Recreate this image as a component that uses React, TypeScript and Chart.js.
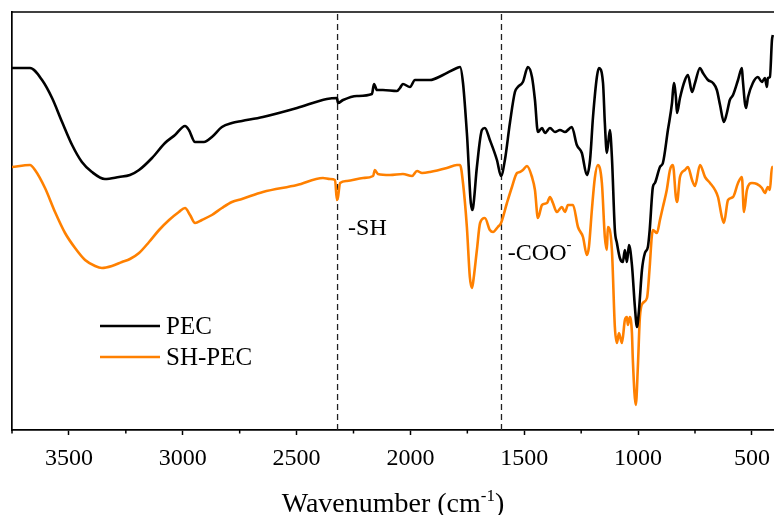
import { useEffect, useRef } from "react";
import { Chart, registerables } from "chart.js";

Chart.register(...registerables);

// ---------------- DATA ----------------
const seriesNames = ["PEC", "SH-PEC"];
const seriesColors = ["#000000", "#FF8000"];

const pecWavenumbers = [
  3750, 3671, 3618, 3574, 3530, 3486, 3443, 3399, 3342, 3280,
  3232, 3192, 3135, 3078, 3034, 2990, 2973, 2946, 2907, 2872,
  2828, 2784, 2740, 2648, 2498, 2367, 2323, 2318, 2296, 2235,
  2169, 2160, 2147, 2121, 2059, 2046, 2033, 2002, 1980, 1914,
  1857, 1796, 1782, 1769, 1752, 1730, 1725, 1708, 1686, 1673,
  1651, 1620, 1602, 1585, 1563, 1541, 1528, 1506, 1484, 1466,
  1453, 1440, 1422, 1409, 1387, 1365, 1343, 1321, 1291, 1269,
  1247, 1225, 1211, 1198, 1181, 1172, 1154, 1146, 1137, 1124,
  1115, 1102, 1093, 1080, 1067, 1058, 1049, 1040, 1027, 1014,
  1005, 996, 983, 970, 957, 949, 935, 926, 904, 891,
  869, 851, 843, 834, 829, 816, 794, 781, 763, 750,
  728, 715, 693, 671, 654, 640, 623, 610, 597, 583,
  561, 544, 540, 526, 517, 496, 474, 456, 443, 434,
  430, 421, 412, 408,
];
const pecValues = [
  362, 362, 350, 332, 308, 285, 268, 258, 251, 253,
  255, 260, 272, 287, 295, 304, 300, 288, 288, 293,
  303, 307, 309, 313, 322, 331, 332, 327, 330, 334,
  336, 346, 340, 340, 339, 342, 346, 343, 350, 350,
  355, 362, 363, 347, 297, 220, 222, 263, 300, 302,
  290, 270, 254, 270, 307, 338, 343, 348, 363, 353,
  330, 298, 302, 297, 302, 298, 300, 298, 303, 285,
  277, 255, 270, 313, 353, 362, 347, 307, 277, 300,
  273, 200, 187, 172, 168, 180, 168, 185, 165, 123,
  103, 120, 160, 177, 183, 200, 243, 247, 263, 267,
  300, 327, 347, 333, 317, 332, 350, 355, 338, 347,
  362, 357, 350, 347, 340, 325, 308, 317, 330, 335,
  350, 362, 350, 322, 333, 347, 353, 348, 352, 343,
  352, 353, 390, 395,
];

const shWavenumbers = [
  3750, 3671, 3649, 3605, 3561, 3517, 3473, 3429, 3385, 3355,
  3311, 3267, 3232, 3192, 3148, 3104, 3060, 3017, 2990, 2968,
  2946, 2916, 2872, 2828, 2784, 2740, 2648, 2498, 2384, 2353,
  2331, 2323, 2318, 2309, 2279, 2208, 2164, 2156, 2143, 2090,
  2033, 1993, 1971, 1949, 1914, 1840, 1796, 1782, 1769, 1752,
  1739, 1730, 1725, 1708, 1694, 1673, 1651, 1637, 1616, 1602,
  1576, 1554, 1532, 1519, 1506, 1488, 1466, 1453, 1440, 1422,
  1400, 1387, 1374, 1357, 1335, 1321, 1308, 1286, 1264, 1242,
  1225, 1216, 1203, 1190, 1177, 1159, 1146, 1137, 1133, 1115,
  1102, 1093, 1084, 1071, 1058, 1049, 1045, 1036, 1027, 1023,
  1010, 1001, 992, 979, 961, 949, 940, 935, 917, 904,
  891, 874, 860, 847, 834, 829, 816, 794, 781, 763,
  750, 728, 706, 684, 662, 649, 632, 623, 605, 583,
  561, 544, 535, 522, 500, 478, 456, 443, 430, 421,
  412, 408,
];
const shValues = [
  263, 265, 260, 242, 218, 197, 182, 170, 164, 162,
  164, 168, 171, 177, 188, 200, 210, 218, 222, 215,
  207, 210, 215, 222, 228, 231, 238, 245, 252, 251,
  250, 230, 233, 247, 249, 252, 254, 260, 256, 255,
  256, 254, 259, 257, 258, 262, 265, 265, 247, 203,
  153, 142, 147, 180, 207, 212, 200, 198, 203, 207,
  227, 243, 257, 258, 260, 264, 253, 240, 212, 225,
  227, 233, 227, 218, 223, 218, 225, 225, 203, 193,
  175, 183, 220, 252, 265, 247, 193, 180, 203, 180,
  103, 87, 97, 87, 110, 113, 105, 113, 97, 70,
  25, 63, 113, 127, 132, 163, 193, 200, 197, 210,
  223, 240, 260, 265, 233, 228, 253, 260, 263, 250,
  244, 265, 253, 247, 240, 233, 213, 207, 230, 233,
  247, 253, 218, 240, 247, 246, 242, 237, 243, 240,
  263, 263,
];

const markerWavenumbers = [2320, 1600];
const annotationTexts = [
  [{ t: "-SH", sup: false }],
  [{ t: "-COO", sup: false }, { t: "-", sup: true }],
];
const annotationWavenumbers = [2274, 1572];
const annotationValues = [201, 176];

const xMax = 3750;
const xMin = 403;
const yMin = 0;
const yMax = 418;
const tickValues = [3750, 3500, 3250, 3000, 2750, 2500, 2250, 2000, 1750, 1500, 1250, 1000, 750, 500];
const axisTitleParts = [
  { t: "Wavenumber (cm", sup: false },
  { t: "-1", sup: true },
  { t: ")", sup: false },
];

// ---------------- HELPERS ----------------
const SERIF = "'Times New Roman', 'Liberation Serif', serif";

function drawRich(
  ctx: CanvasRenderingContext2D,
  parts: { t: string; sup: boolean }[],
  x: number,
  y: number,
  size: number,
  align: "left" | "center",
  baseline: "middle" | "alphabetic"
) {
  const supSize = Math.round(size * 0.62);
  let total = 0;
  const widths = parts.map((p) => {
    ctx.font = `${p.sup ? supSize : size}px ${SERIF}`;
    const w = ctx.measureText(p.t).width;
    total += w;
    return w;
  });
  let cx = align === "center" ? x - total / 2 : x;
  ctx.textAlign = "left";
  ctx.textBaseline = baseline;
  parts.forEach((p, i) => {
    ctx.font = `${p.sup ? supSize : size}px ${SERIF}`;
    ctx.fillText(p.t, cx, p.sup ? y - size * 0.38 : y);
    cx += widths[i];
  });
}

const decorPlugin = {
  id: "decor",
  afterDatasetsDraw(chart: any) {
    const { ctx, chartArea, scales } = chart;
    const xs = scales.x;
    const ys = scales.y;
    ctx.save();
    ctx.strokeStyle = "#000";
    ctx.fillStyle = "#000";
    // top frame line
    ctx.lineWidth = 1.7;
    ctx.beginPath();
    ctx.moveTo(chartArea.left, chartArea.top);
    ctx.lineTo(chartArea.right, chartArea.top);
    ctx.stroke();
    // minor ticks
    ctx.lineWidth = 1.5;
    tickValues
      .filter((v) => v % 500 !== 0)
      .forEach((v) => {
        const px = xs.getPixelForValue(v);
        ctx.beginPath();
        ctx.moveTo(px, chartArea.bottom);
        ctx.lineTo(px, chartArea.bottom + 3.5);
        ctx.stroke();
      });
    // legend
    seriesNames.forEach((name, i) => {
      const ly = chartArea.top + 314 + i * 31;
      ctx.strokeStyle = seriesColors[i];
      ctx.lineWidth = 2.6;
      ctx.beginPath();
      ctx.moveTo(chartArea.left + 88, ly);
      ctx.lineTo(chartArea.left + 148, ly);
      ctx.stroke();
      ctx.fillStyle = "#000";
      drawRich(ctx, [{ t: name, sup: false }], chartArea.left + 154, ly + 1, 25, "left", "middle");
    });
    // annotations
    annotationTexts.forEach((parts, i) => {
      const ax = xs.getPixelForValue(annotationWavenumbers[i]);
      const ay = ys.getPixelForValue(annotationValues[i]);
      drawRich(ctx, parts, ax, ay, 24, "left", "middle");
    });
    // axis title
    drawRich(
      ctx,
      axisTitleParts,
      (chartArea.left + chartArea.right) / 2,
      chartArea.bottom + 82,
      28,
      "center",
      "alphabetic"
    );
    ctx.restore();
  },
};

export default function App() {
  const ref = useRef<HTMLCanvasElement>(null);
  useEffect(() => {
    document.body.style.margin = "0";
    if (!ref.current) return;
    const lineDs = (name: string, ws: number[], vs: number[], color: string) => ({
      label: name,
      data: ws.map((w, i) => ({ x: w, y: vs[i] })),
      borderColor: color,
      backgroundColor: color,
      borderWidth: 2.6,
      pointRadius: 0,
      cubicInterpolationMode: "monotone" as const,
      fill: false,
    });
    const markerDs = markerWavenumbers.map((w) => ({
      label: "marker",
      data: [
        { x: w, y: yMin },
        { x: w, y: yMax },
      ],
      borderColor: "#222",
      borderWidth: 1.3,
      borderDash: [6, 4],
      pointRadius: 0,
      fill: false,
    }));
    const chart = new Chart(ref.current, {
      type: "line",
      data: {
        datasets: [
          lineDs(seriesNames[0], pecWavenumbers, pecValues, seriesColors[0]),
          lineDs(seriesNames[1], shWavenumbers, shValues, seriesColors[1]),
          ...markerDs,
        ] as any,
      },
      options: {
        animation: false,
        responsive: false,
        devicePixelRatio: 1,
        layout: { padding: { left: 12, top: 12, right: 0, bottom: 0 } },
        plugins: {
          legend: { display: false },
          tooltip: { enabled: false },
        },
        scales: {
          x: {
            type: "linear",
            reverse: true,
            min: xMin,
            max: xMax,
            afterBuildTicks: (scale: any) => {
              scale.ticks = tickValues.map((v) => ({ value: v }));
            },
            afterFit: (scale: any) => {
              scale.height = 85;
              scale.paddingLeft = 0;
              scale.paddingRight = 0;
            },
            ticks: {
              autoSkip: false,
              maxRotation: 0,
              padding: 9,
              color: "#000",
              font: { family: SERIF, size: 24 },
              callback: (v: any) => (Number(v) % 500 === 0 ? String(v) : ""),
            },
            grid: {
              display: true,
              drawOnChartArea: false,
              drawTicks: true,
              tickLength: 5,
              tickWidth: 1.5,
              tickColor: (c: any) =>
                c.tick && c.tick.value % 500 === 0 ? "#000" : "rgba(0,0,0,0)",
            },
            border: { display: true, color: "#000", width: 1.7 },
          },
          y: {
            type: "linear",
            min: yMin,
            max: yMax,
            afterFit: (scale: any) => {
              scale.width = 0;
              scale.paddingTop = 0;
              scale.paddingBottom = 0;
            },
            ticks: { display: false },
            grid: { display: false },
            border: { display: true, color: "#000", width: 1.7 },
          },
        },
      } as any,
      plugins: [decorPlugin],
    });
    return () => chart.destroy();
  }, []);
  return (
    <div style={{ width: 774, height: 515 }}>
      <canvas ref={ref} width={774} height={515} style={{ display: "block" }} />
    </div>
  );
}
